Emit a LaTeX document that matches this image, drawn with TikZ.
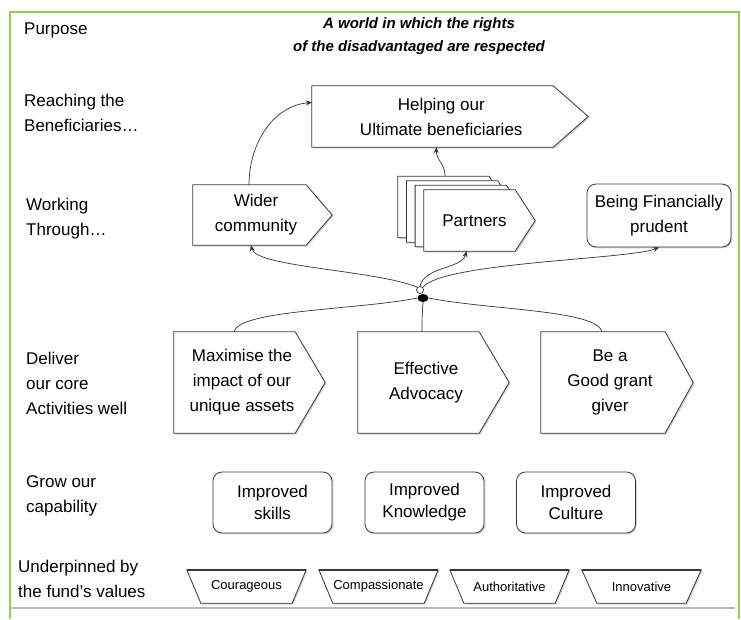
\documentclass[tikz,border=0pt]{standalone}
\usepackage{fontspec}
\setmainfont{Liberation Sans}
\usetikzlibrary{calc,arrows.meta,shadows,backgrounds,shapes.geometric}
\definecolor{framegreen}{RGB}{146,208,80}
\definecolor{edgegray}{RGB}{55,55,55}
\newcommand\pentshape[5]{%
  \path[#5] ($(#1.north west)+(#3,#4)$) -- ($(#1.north east)+({#3-#2/2},#4)$) -- ($(#1.east)+({#3+#2/2},#4)$) -- ($(#1.south east)+({#3-#2/2},#4)$) -- ($(#1.south west)+(#3,#4)$) -- cycle;}
\newcommand\trapshape[2]{%
  \path[outline] (#1.north west) -- (#1.north east) -- ($(#1.south east)+(-#2,0)$) -- ($(#1.south west)+(#2,0)$) -- cycle;
  \draw[edgegray, line width=2pt] (#1.north west) -- (#1.north east);}
\begin{document}
\begin{tikzpicture}[x=1pt,y=-1pt,
  lbl/.style={anchor=west, align=left, inner sep=0pt, font=\fontsize{17}{25}\selectfont},
  boxtxt/.style={align=center, inner sep=0pt, draw=none, font=\fontsize{17}{25}\selectfont},
  outline/.style={draw=edgegray, line width=0.8pt, fill=white,
    drop shadow={shadow xshift=1.3pt, shadow yshift=-1.3pt, opacity=0.35}},
  rbox/.style={boxtxt, rounded corners=9pt, draw=edgegray, line width=0.8pt, fill=white,
    drop shadow={shadow xshift=1.3pt, shadow yshift=-1.3pt, opacity=0.35}},
  valbox/.style={inner sep=0pt, minimum width=119pt, minimum height=33pt, font=\fontsize{13}{15}\selectfont},
  conn/.style={draw=black!80, line width=0.7pt},
  arr/.style={conn, -{Stealth[length=6pt,width=5pt]}}]
\useasboundingbox (0,0) rectangle (741,619);
% frame
\draw[framegreen, line width=2pt] (10,619) -- (10,12) -- (739,12) -- (739,619);
\draw[gray!55, line width=1.2pt] (10,608) -- (735,608);

% left labels
\node[lbl] (lp) at (24,30) {Purpose};
\node[lbl] (lr) at (24,112.5) {Reaching the\\Beneficiaries…};
\node[lbl] (lw) at (26,219) {Working\\Through…};
\node[lbl] (ld) at (26,383) {Deliver\\our core\\Activities well};
\node[lbl] (lg) at (26,495.5) {Grow our\\capability};
\node[lbl] (lu) at (18,578.5) {Underpinned by\\the fund's values};

% title
\node[align=center, inner sep=0pt, font=\fontsize{15}{23}\selectfont\bfseries\itshape] (title) at (419,36)
  {A world in which the rights\\of the disadvantaged are respected};

% pentagon boxes (text nodes)
\node[boxtxt, minimum width=258.5pt, minimum height=61pt] (h) at (441.25,116.5) {Helping our\\Ultimate beneficiaries};
\node[boxtxt, minimum width=126pt, minimum height=60pt] (w) at (256,215) {Wider\\community};
\node[boxtxt, minimum width=101pt, minimum height=61pt] (p) at (474.5,220.5) {Partners};
\node[boxtxt, minimum width=136pt, minimum height=101pt] (m) at (242,382.5) {Maximise the\\impact of our\\unique assets};
\node[boxtxt, minimum width=136pt, minimum height=101pt] (e) at (426,382.5) {Effective\\Advocacy};
\node[boxtxt, minimum width=138pt, minimum height=101pt] (g) at (610,382.5) {Be a\\Good grant\\giver};

% rounded boxes
\node[rbox, minimum width=144pt, minimum height=63pt] (f) at (659,215.5) {Being Financially\\prudent};
\node[rbox, minimum width=119pt, minimum height=61pt, font=\fontsize{17}{22}\selectfont] (c1) at (272.5,502.5) {Improved\\skills};
\node[rbox, minimum width=119pt, minimum height=61pt, font=\fontsize{17}{22}\selectfont] (c2) at (424.5,502.5) {Improved\\Knowledge};
\node[rbox, minimum width=119pt, minimum height=61pt, font=\fontsize{17}{22}\selectfont] (c3) at (576,502.5) {Improved\\Culture};

% values
\node[valbox] (v1) at (246.5,586.5) {Courageous};
\node[valbox] (v2) at (378.5,586.5) {Compassionate};
\node[valbox] (v3) at (509.5,586.5) {Authoritative};
\node[valbox] (v4) at (641.5,586.5) {Innovative};

% hub
\node[circle, draw=black!85, fill=white, line width=0.7pt, minimum size=7pt, inner sep=0pt] (hubw) at (420,290) {};
\node[ellipse, fill=black, minimum width=11pt, minimum height=8pt, inner sep=0pt] (hubb) at (423,298) {};

\begin{pgfonlayer}{background}
  \pentshape{h}{35}{0}{0}{outline}
  \pentshape{w}{26}{0}{0}{outline}
  \pentshape{p}{20}{-26.1}{-13.5}{outline}
  \pentshape{p}{20}{-17.4}{-9}{outline}
  \pentshape{p}{20}{-8.7}{-4.5}{outline}
  \pentshape{p}{20}{0}{0}{outline}
  \pentshape{m}{30}{0}{0}{outline}
  \pentshape{e}{30}{0}{0}{outline}
  \pentshape{g}{28}{0}{0}{outline}
  \trapshape{v1}{14}
  \trapshape{v2}{14}
  \trapshape{v3}{14}
  \trapshape{v4}{15}
\end{pgfonlayer}

% connectors to upper level
\draw[arr] ($(w.north)+(-7,0)$) .. controls +(0,-42) and +(-38,3) .. ($(h.west)+(0,-14)$);
\draw[arr] ($(p.north)+(-29.5,-13.5)$) .. controls +(0,-13) and +(0,13) .. ($(h.south)+(-5,0)$);
% hub to working-through boxes
\draw[arr] (hubw.north west) .. controls +(-40,-17) and +(5,22) .. ($(w.south)+(-5,0)$);
\draw[arr] (hubw.north) .. controls +(5,-20) and +(-5,18) .. ($(p.south)+(-8,0)$);
\draw[arr] (hubw.north east) .. controls +(20,-25) and +(-30,12) .. (f.south);
% hub to core activities
\draw[conn] (hubb.west) .. controls +(-60,12) and +(5,-22) .. ($(m.north)+(-8,0)$);
\draw[conn] (hubb.south) .. controls +(-1,12) and +(0,-10) .. ($(e.north)+(-4,0)$);
\draw[conn] (hubb.east) .. controls +(60,12) and +(-5,-22) .. ($(g.north)+(-8,0)$);
\end{tikzpicture}
\end{document}
